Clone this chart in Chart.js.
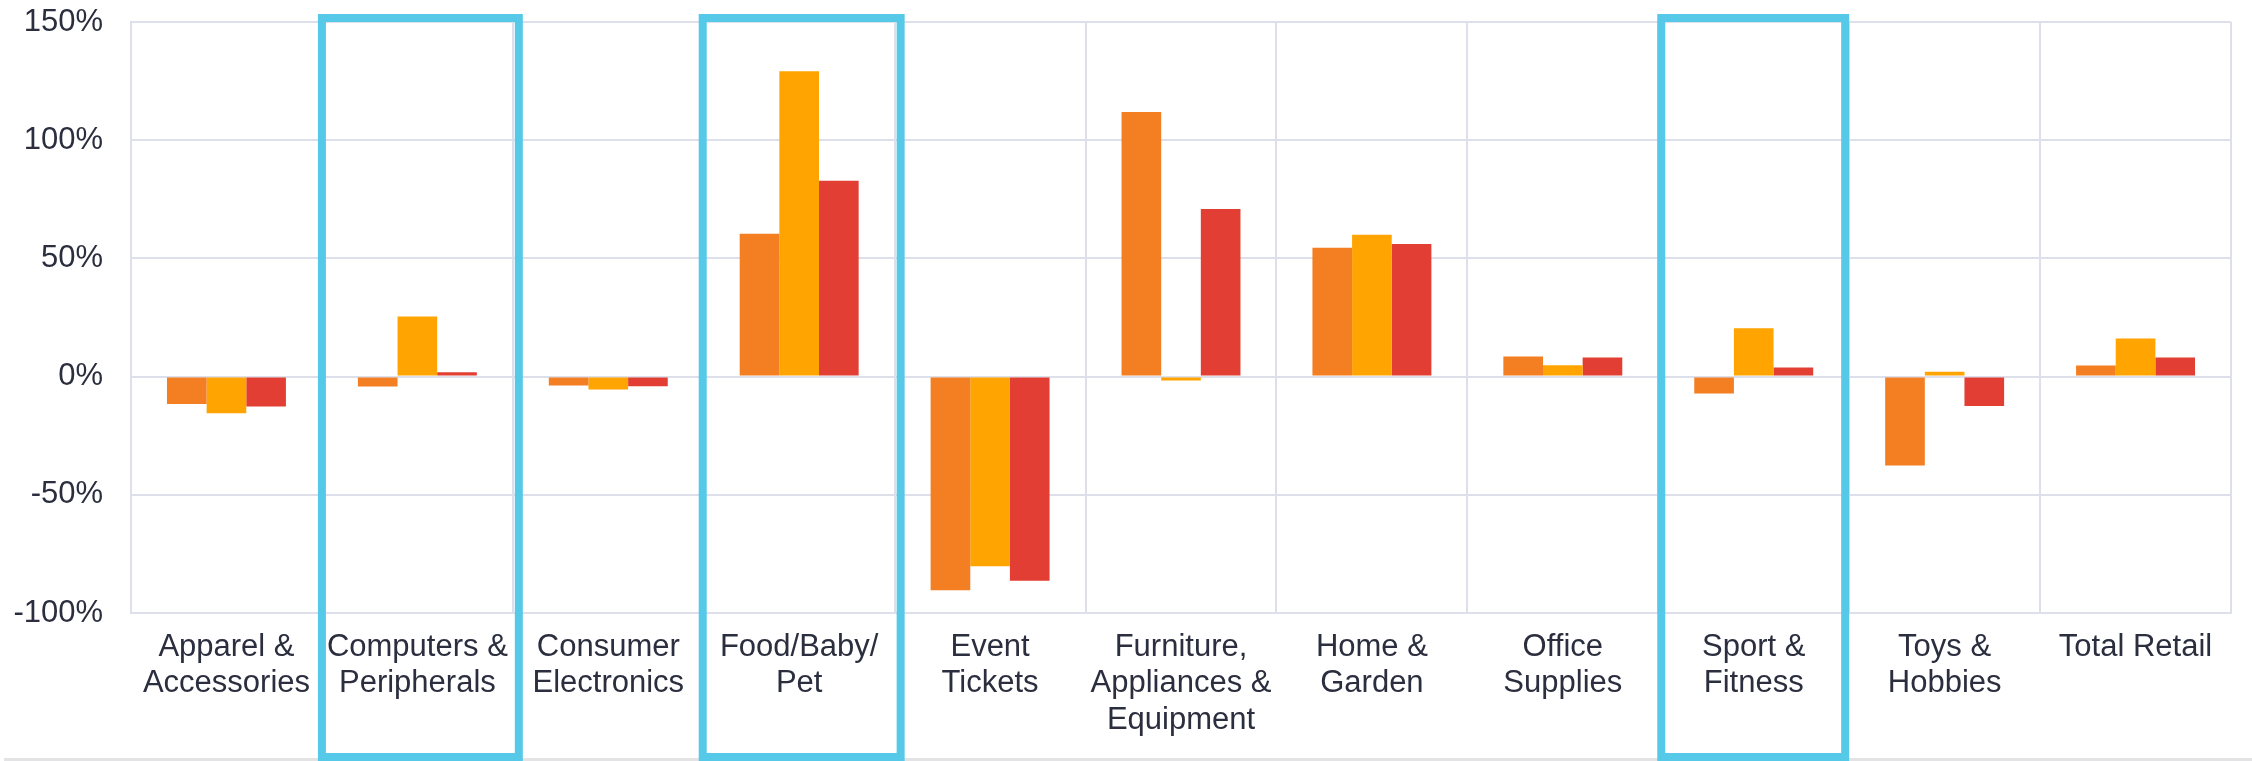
<!DOCTYPE html>
<html>
<head>
<meta charset="utf-8">
<script src="https://cdn.jsdelivr.net/npm/chart.js@4.4.1/dist/chart.umd.min.js"></script>
<style>
  html, body { margin: 0; padding: 0; background: #fff; }
  #wrap { width: 2252px; height: 761px; }
</style>
</head>
<body>
<div id="wrap"><canvas id="chart" width="2252" height="761"></canvas></div>
<script>
// categories, one array of lines per tick label
const categories = [
    ['Apparel &', 'Accessories'],
    ['Computers &', 'Peripherals'],
    ['Consumer', 'Electronics'],
    ['Food/Baby/', 'Pet'],
    ['Event', 'Tickets'],
    ['Furniture,', 'Appliances &', 'Equipment'],
    ['Home &', 'Garden'],
    ['Office', 'Supplies'],
    ['Sport &', 'Fitness'],
    ['Toys &', 'Hobbies'],
    ['Total Retail'],
];

// growth in %
const seriesOrange = [-11.6, -4.2, -3.8, 60.4, -90.4, 111.9, 54.5, 8.5, -7.1, -37.6, 4.7];
const seriesAmber  = [-15.5, 25.4, -5.5, 129.2, -80.2, -1.7, 60.0, 4.8, 20.5, 2.1, 16.1];
const seriesRed    = [-12.6, 1.8, -4.1, 82.8, -86.4, 70.9, 56.1, 8.1, 3.8, -12.4, 8.1];

const yTicks = [-100, -50, 0, 50, 100, 150];

// categories framed by the blue boxes
const highlighted = [1, 3, 8];
const boxPad = [[-4, 10], [-5, 10], [-1, 0]];

const GRID = '#dde0ea';
const TEXT = '#2b2e3e';
const FONT = '"Liberation Sans", Arial, sans-serif';

const highlightBoxes = {
    id: 'highlightBoxes',
    afterDraw(chart) {
        const ctx = chart.ctx;
        const x = chart.scales.x;
        const y = chart.scales.y;
        const half = x.width / categories.length / 2;
        const lw = 8;

        // light rule along the bottom edge
        ctx.save();
        ctx.fillStyle = '#e3e3e6';
        ctx.fillRect(4, chart.height - 3, chart.width - 4, 3);

        ctx.strokeStyle = '#56c8e8';
        ctx.lineWidth = lw;
        highlighted.forEach((i, k) => {
            const c = x.getPixelForValue(i);
            const left = c - half + boxPad[k][0] + lw / 2;
            const right = c + half + boxPad[k][1] - lw / 2;
            const top = y.getPixelForValue(yTicks[yTicks.length - 1]) - 8 + lw / 2;
            const bottom = chart.height - lw / 2;
            ctx.strokeRect(left, top, right - left, bottom - top);
        });
        ctx.restore();
    },
};

new Chart(document.getElementById('chart'), {
    type: 'bar',
    data: {
        labels: categories,
        datasets: [
            { label: 'Series 1', data: seriesOrange, backgroundColor: '#f47e22' },
            { label: 'Series 2', data: seriesAmber, backgroundColor: '#ffa400' },
            { label: 'Series 3', data: seriesRed, backgroundColor: '#e23e33' },
        ],
    },
    options: {
        responsive: false,
        animation: false,
        devicePixelRatio: 1,
        layout: { padding: { left: 0, right: 21, top: 22, bottom: 0 } },
        datasets: { bar: { categoryPercentage: 0.623, barPercentage: 1 } },
        plugins: {
            legend: { display: false },
            tooltip: { enabled: false },
        },
        scales: {
            x: {
                grid: { color: GRID, lineWidth: 2, drawTicks: false, offset: true },
                border: { color: GRID, width: 2 },
                ticks: {
                    autoSkip: false,
                    maxRotation: 0,
                    padding: 16,
                    color: TEXT,
                    font: { family: FONT, size: 31, lineHeight: 1.18 },
                },
                afterFit(scale) {
                    scale.height = 148;
                    scale.paddingLeft = 0;
                    scale.paddingRight = 0;
                },
            },
            y: {
                min: yTicks[0],
                max: yTicks[yTicks.length - 1],
                afterBuildTicks(scale) { scale.ticks = yTicks.map(v => ({ value: v })); },
                grid: { color: GRID, lineWidth: 2, drawTicks: false },
                border: { color: GRID, width: 2 },
                ticks: {
                    padding: 28,
                    color: TEXT,
                    font: { family: FONT, size: 31 },
                    callback: v => v + '%',
                },
                afterFit(scale) {
                    scale.width = 131;
                    scale.paddingTop = 0;
                    scale.paddingBottom = 0;
                },
            },
        },
    },
    plugins: [highlightBoxes],
});
</script>
</body>
</html>
